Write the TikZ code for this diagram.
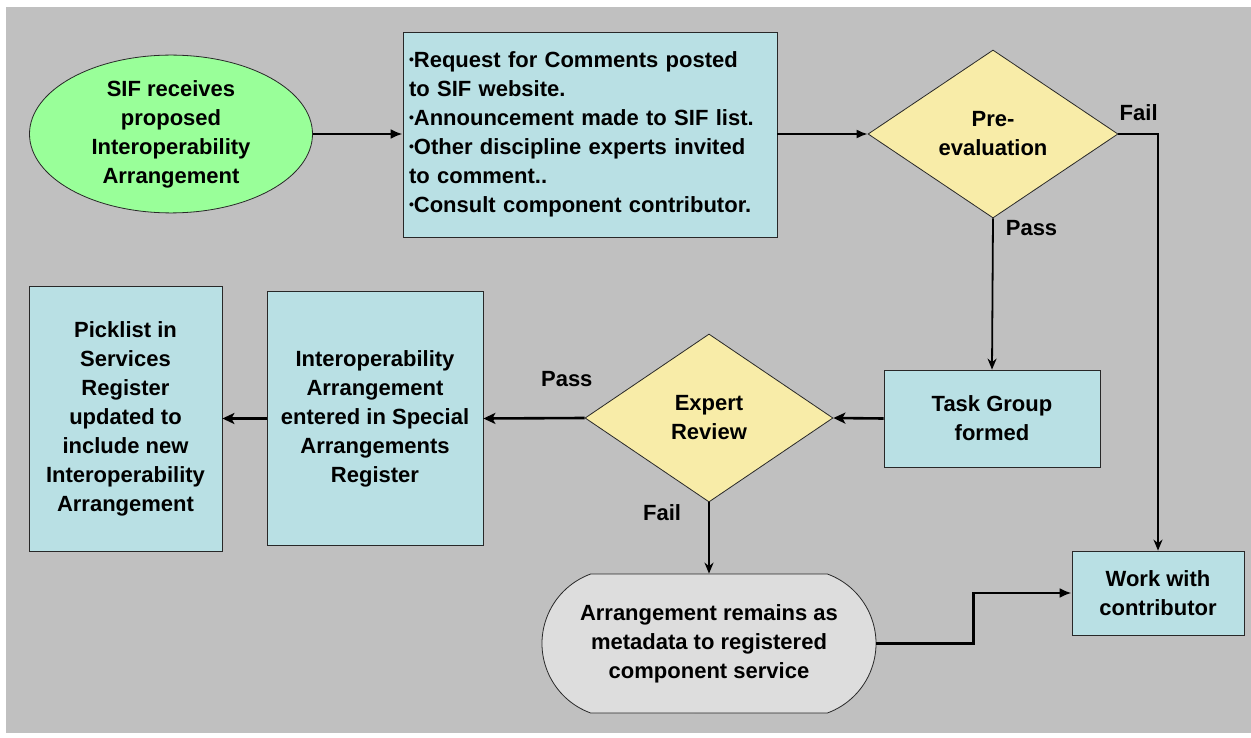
\documentclass[tikz,border=0pt]{standalone}
\usepackage{fontspec}
\setmainfont{Liberation Sans}
\usetikzlibrary{shapes.geometric,shapes.misc,arrows.meta,positioning}
\definecolor{panelgrey}{RGB}{192,192,192}
\definecolor{edgegrey}{RGB}{40,40,40}
\definecolor{startgreen}{RGB}{153,255,153}
\definecolor{boxblue}{RGB}{185,224,228}
\definecolor{choiceyellow}{RGB}{248,236,168}
\definecolor{endgrey}{RGB}{221,221,221}
\newcommand{\smallbullet}{\raisebox{0.25ex}{\fontsize{14}{14}\selectfont\textbullet}}
\begin{document}
\begin{tikzpicture}
[x=1pt,y=-1pt,
basenode/.style={draw=edgegrey,line width=0.8pt,inner sep=2pt,align=center,
font=\fontsize{22}{29}\selectfont\bfseries},
startnode/.style={basenode,ellipse,fill=startgreen},
processbox/.style={basenode,rectangle,fill=boxblue},
decisionnode/.style={basenode,diamond,fill=choiceyellow,inner sep=0pt},
endnode/.style={basenode,rounded rectangle,rounded rectangle arc length=140,fill=endgrey},
branchlabel/.style={inner sep=0pt,font=\fontsize{22}{29}\selectfont\bfseries},
flowline/.style={line width=1.8pt,-{Latex[length=11pt,width=9pt]}},
heavyline/.style={line width=2.6pt,-{Stealth[length=12pt,width=11pt,inset=3pt]}}
]
\useasboundingbox (0,0) rectangle (1251,738);
\fill[panelgrey] (6,7) rectangle (1251,733);
\node [startnode,minimum width=283pt,minimum height=146pt] (Receive) at (171,134)
{SIF receives\\proposed\\Interoperability\\Arrangement};
\node [processbox,minimum width=374pt,minimum height=205pt,align=left,
text width=362pt] (Comments) at (590,134.5)
{\smallbullet Request for Comments posted\\to SIF website.\\
\smallbullet Announcement made to SIF list.\\
\smallbullet Other discipline experts invited\\to comment..\\
\smallbullet Consult component contributor.};
\node [decisionnode,minimum width=250pt,minimum height=168pt] (PreEval) at (993,134)
{Pre-\\evaluation};
\node [processbox,minimum width=216pt,minimum height=97pt] (TaskGroup) at (992,418.5)
{Task Group\\formed};
\node [decisionnode,minimum width=248pt,minimum height=168pt] (Expert) at (709,418)
{Expert\\Review};
\node [processbox,minimum width=216pt,minimum height=254pt] (Register) at (375,418.5)
{Interoperability\\Arrangement\\entered in Special\\Arrangements\\Register};
\node [processbox,minimum width=193pt,minimum height=265pt] (Picklist) at (125.5,418.5)
{Picklist in\\Services\\Register\\updated to\\include new\\Interoperability\\Arrangement};
\node [endnode,minimum width=338pt,minimum height=139pt] (Remains) at (709,643.5)
{Arrangement remains as\\metadata to registered\\component service};
\node [processbox,minimum width=172pt,minimum height=84pt] (Work) at (1158,593)
{Work with\\contributor};

\draw [heavyline,-{Latex[length=12pt,width=10pt]}] (Receive.east) -- (Receive.east -| Comments.west);
\draw [flowline] (Comments.east |- PreEval.west) -- (PreEval.west);
\draw [flowline,-{Stealth[length=11pt,width=9pt]}] (PreEval.east) -|
node [branchlabel,pos=0.256,above=12pt] {Fail} (Work.north);
\draw [flowline,-{Stealth[length=11pt,width=9pt]}] (PreEval.south) --
node [branchlabel,pos=0.065,right=12pt] {Pass} (TaskGroup.north);
\draw [heavyline] (TaskGroup.west) -- (Expert.east);
\draw [heavyline] (Expert.west) --
node [branchlabel,pos=0.176,above=30pt] {Pass} (Register.east);
\draw [heavyline] (Register.west) -- (Picklist.east);
\draw [flowline,-{Stealth[length=11pt,width=9pt]}] (Expert.south) --
node [branchlabel,pos=0.15,left=27pt] {Fail} (Remains.north);
\draw [heavyline,-{Latex[length=12pt,width=10pt]}] (Remains.east) -- ++(97,0) |- (Work.west);
\end{tikzpicture}
\end{document}
